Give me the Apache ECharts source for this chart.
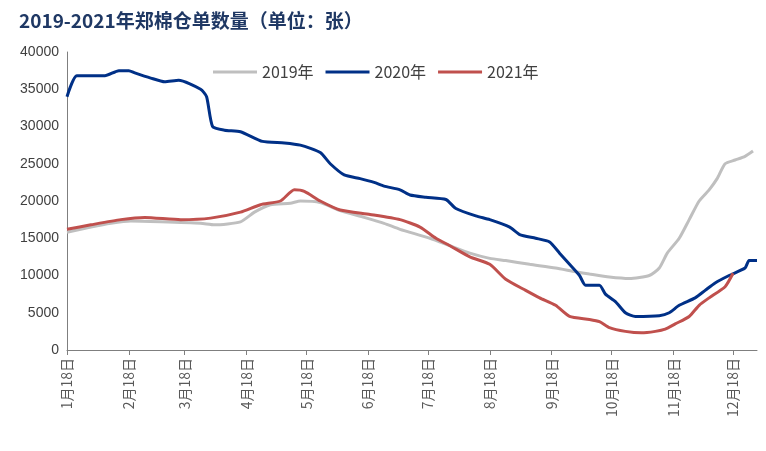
<!DOCTYPE html>
<html><head><meta charset="utf-8">
<script src="https://cdn.jsdelivr.net/npm/echarts@6/dist/echarts.min.js"></script>
<style>html,body{margin:0;padding:0;background:#fff}#c{width:766px;height:451px}</style>
</head><body><div id="c"></div>
<script>
// x = days since Jan 18
var tickDays = [0, 31, 59, 90, 120, 151, 181, 212, 243, 273, 304, 334];
var tickLabels = ['1月18日','2月18日','3月18日','4月18日','5月18日','6月18日','7月18日','8月18日','9月18日','10月18日','11月18日','12月18日'];

var d2019 = [[0,15800],[12,16500],[22,17000],[32,17300],[47,17200],[67,17000],[74,16800],[87,17200],[94,18500],[102,19500],[112,19700],[117,20000],[127,19800],[137,18700],[149,17800],[159,17000],[167,16200],[182,15000],[192,14000],[202,13000],[212,12300],[220,12000],[232,11500],[245,11000],[255,10500],[262,10200],[272,9800],[282,9600],[292,10000],[297,11000],[301,13000],[307,15000],[312,17500],[317,20000],[322,21500],[326,23000],[330,25000],[335,25500],[340,26000],[344,26700]];
var d2020 = [[0,34000],[5,36800],[19,36800],[26,37500],[31,37500],[34,37200],[42,36500],[49,36000],[56,36200],[67,35000],[70,34000],[73,30000],[79,29500],[87,29300],[98,28000],[109,27800],[117,27500],[127,26500],[132,25000],[139,23500],[147,23000],[154,22500],[159,22000],[167,21500],[172,20800],[180,20500],[190,20200],[195,19000],[205,18000],[212,17500],[222,16500],[227,15500],[235,15000],[242,14500],[247,13000],[252,11500],[257,10000],[260,8700],[267,8700],[270,7500],[275,6500],[280,5000],[285,4500],[297,4600],[302,5000],[307,6000],[315,7000],[320,8000],[325,9000],[332,10000],[340,11000],[342,12000],[346,12000]];
var d2021 = [[0,16200],[12,16800],[27,17500],[39,17800],[57,17500],[72,17700],[87,18500],[97,19500],[107,20000],[114,21500],[119,21300],[127,20000],[137,18800],[152,18200],[167,17500],[177,16500],[185,15000],[192,14000],[202,12500],[212,11500],[220,9500],[230,8000],[237,7000],[245,6000],[252,4500],[262,4100],[267,3800],[272,3000],[280,2500],[288,2300],[295,2500],[300,2800],[305,3500],[312,4500],[317,6000],[322,7000],[330,8500],[334,10300]];

var chart = echarts.init(document.getElementById('c'));
var font = 'Noto Sans CJK SC';
function line(name, data, color) {
  return {name: name, type: 'line', data: data, showSymbol: false, smooth: 0.2,
    lineStyle: {color: color, width: 3}, itemStyle: {color: color}};
}
chart.setOption({
  animation: false,
  title: {text: '2019-2021年郑棉仓单数量（单位：张）', left: 14, top: 6,
    textStyle: {fontFamily: font, fontSize: 19, fontWeight: 'bold', color: '#1f3864'}},
  legend: {top: 59, left: 208, icon: 'rect', itemWidth: 44, itemHeight: 3, itemGap: 12,
    textStyle: {fontFamily: font, fontSize: 16, color: '#404040'},
    data: ['2019年', '2020年', '2021年']},
  grid: {left: 67, right: 9, top: 52, bottom: 101},
  xAxis: {type: 'value', min: 0, max: 346,
    axisLine: {lineStyle: {color: '#7f7f7f'}},
    axisTick: {customValues: tickDays, length: 5, lineStyle: {color: '#7f7f7f'}},
    axisLabel: {customValues: tickDays, rotate: 90, fontFamily: font, fontSize: 14, color: '#595959',
      formatter: function (v) { return tickLabels[tickDays.indexOf(v)]; }},
    splitLine: {show: false}},
  yAxis: {type: 'value', min: 0, max: 40000, interval: 5000,
    axisLine: {show: true, lineStyle: {color: '#7f7f7f'}},
    axisTick: {show: false},
    axisLabel: {fontFamily: 'Liberation Sans', fontSize: 14, color: '#404040',
      formatter: function (v) { return String(v); }},
    splitLine: {show: false}},
  series: [line('2019年', d2019, '#bfbfbf'), line('2020年', d2020, '#003087'), line('2021年', d2021, '#c0504d')]
});
</script></body></html>
